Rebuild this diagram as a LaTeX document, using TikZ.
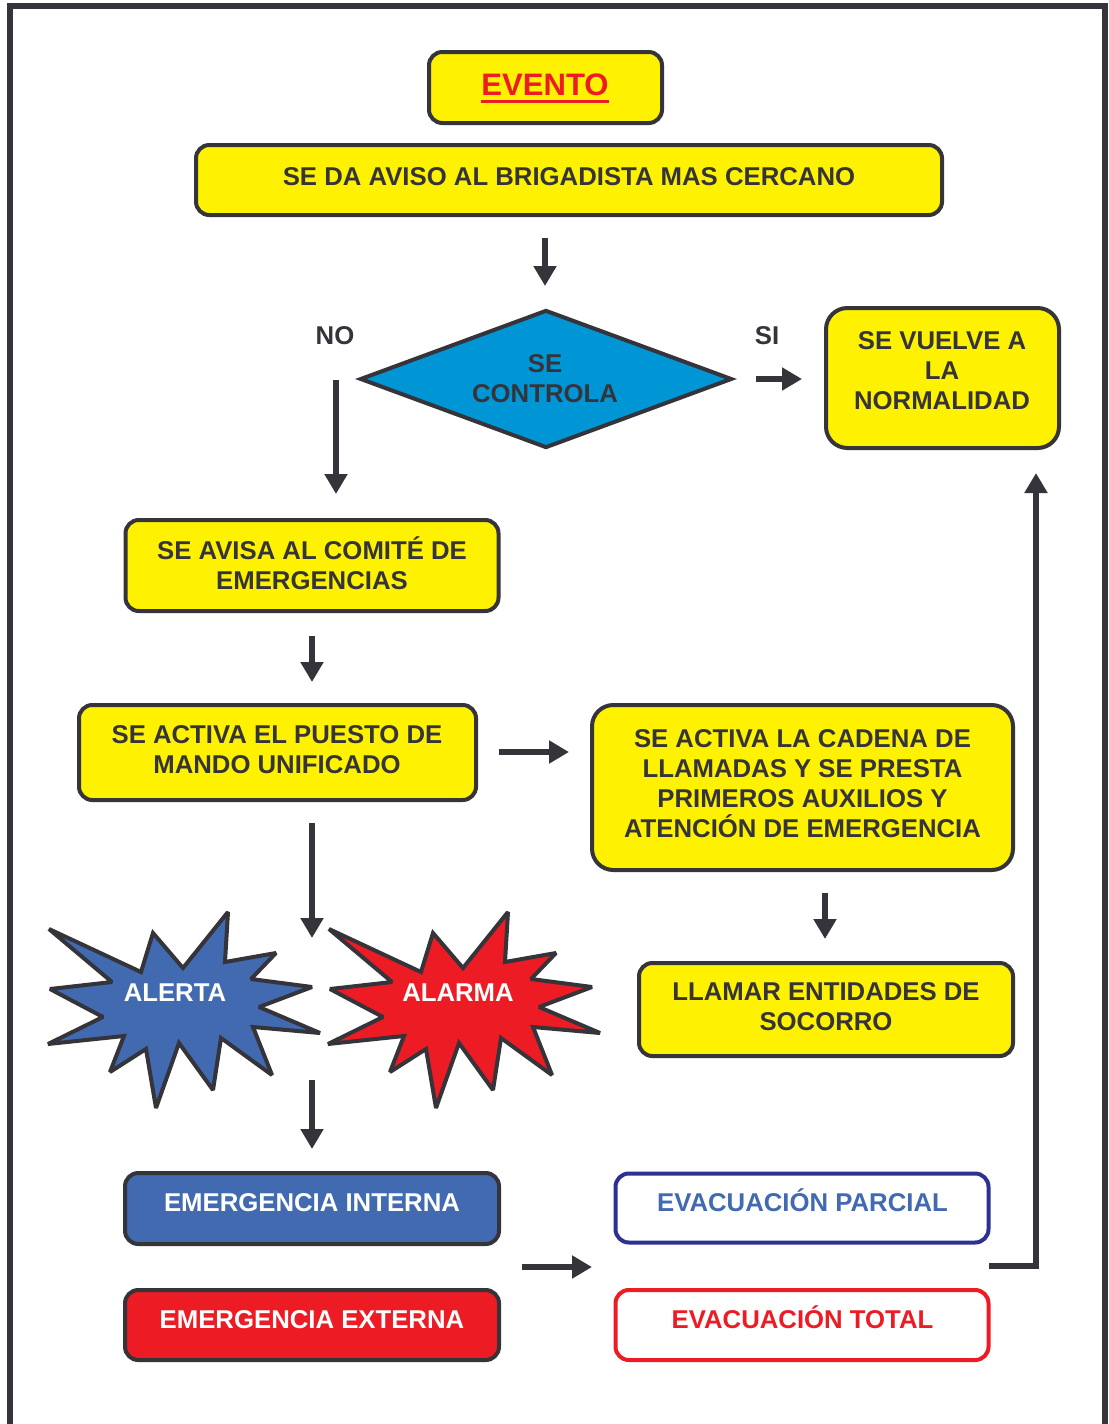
\documentclass[tikz,border=0pt]{standalone}
\usepackage{fontspec}
\setmainfont{Liberation Sans}
\usetikzlibrary{arrows.meta,shapes.geometric}
\definecolor{ink}{RGB}{53,52,58}
\definecolor{ylw}{RGB}{255,242,0}
\definecolor{dblue}{RGB}{0,150,214}
\definecolor{sblue}{RGB}{65,106,177}
\definecolor{sred}{RGB}{237,28,36}
\definecolor{navy}{RGB}{46,49,146}
\tikzset{
 ybox/.style={draw=ink, fill=ylw, line width=3pt, rounded corners=10pt, inner sep=0pt},
 bigbox/.style={ybox, rounded corners=16pt},
 txt/.style={font=\fontsize{19.3pt}{22.5pt}\selectfont\bfseries, text=ink, align=center, inner sep=0pt,
   execute at begin node=\strut, execute at end node=\strut},
 arr/.style={draw=ink, line width=4.5pt, -{Triangle[width=16.5pt,length=15pt]}},
 starshape/.style={draw=ink, line width=3pt, miter limit=2.2},
}
\begin{document}
\begin{tikzpicture}[x=0.75pt,y=-0.75pt]
\useasboundingbox (0,0) rectangle (1108,1424);
\fill[white] (0,0) rectangle (1108,1424);
% outer frame
\draw[ink, line width=4.5pt] (9.5,6) rectangle (1105,1440);

% top boxes
\node[ybox, minimum width=233*0.75pt, minimum height=71*0.75pt] (evento) at (545.5,87.5) {};
\node[font=\fontsize{23.3pt}{26pt}\selectfont\bfseries, text=sred, inner sep=0pt, anchor=base] (eventot) at (545,95) {EVENTO};
\draw[sred, line width=2.25pt] ([yshift=-4.5pt]eventot.base west) -- ([yshift=-4.5pt]eventot.base east);

\node[ybox, minimum width=746*0.75pt, minimum height=70*0.75pt] (aviso) at (569,180) {};
\node[txt] (avisot) at (569,179) {SE DA AVISO AL BRIGADISTA MAS CERCANO};

% decision
\node[diamond, draw=ink, fill=dblue, line width=3pt, inner sep=0pt,
      minimum width=372*0.75pt, minimum height=138*0.75pt] (ctrl) at (546,379) {};
\node[txt] (ctrlt) at (545,383) {SE\\CONTROLA};
\node[txt] (no) at (335,338) {NO};
\node[txt] (si) at (767,338) {SI};

\node[bigbox, minimum width=233*0.75pt, minimum height=140*0.75pt] (vuelve) at (942.5,378) {};
\node[txt] (vuelvet) at (942,375) {SE VUELVE A\\LA\\NORMALIDAD};

% left column
\node[ybox, minimum width=373*0.75pt, minimum height=91*0.75pt] (comite) at (312,565.5) {};
\node[txt] (comitet) at (312,568) {SE AVISA AL COMITÉ DE\\EMERGENCIAS};

\node[ybox, minimum width=397*0.75pt, minimum height=95*0.75pt] (puesto) at (277.5,752.5) {};
\node[txt] (puestot) at (277,754.5) {SE ACTIVA EL PUESTO DE\\MANDO UNIFICADO};

\node[bigbox, minimum width=421*0.75pt, minimum height=165*0.75pt] (cadena) at (802.5,787.5) {};
\node[txt] (cadenat) at (802.5,788) {SE ACTIVA LA CADENA DE\\LLAMADAS Y SE PRESTA\\PRIMEROS AUXILIOS Y\\ATENCIÓN DE EMERGENCIA};

\node[ybox, minimum width=374*0.75pt, minimum height=93*0.75pt] (llamar) at (826,1009.5) {};
\node[txt] (llamart) at (826,1011.5) {LLAMAR ENTIDADES DE\\SOCORRO};

% stars
\path[starshape, fill=sblue] (49,929) -- (141,972) -- (153,933) -- (183,968) -- (228,912) -- (225,962)
 -- (276,953) -- (251,979) -- (312,987) -- (259,1007) -- (320,1033) -- (253,1027) -- (272,1075)
 -- (221,1038) -- (213,1090) -- (179,1043) -- (156,1108) -- (146,1049) -- (110,1072) -- (124,1036)
 -- (48,1044) -- (103,1017) -- (50,989) -- (112,982) -- cycle;
\path[starshape, fill=sred, xshift=210pt] (49,929) -- (141,972) -- (153,933) -- (183,968) -- (228,912) -- (225,962)
 -- (276,953) -- (251,979) -- (312,987) -- (259,1007) -- (320,1033) -- (253,1027) -- (272,1075)
 -- (221,1038) -- (213,1090) -- (179,1043) -- (156,1108) -- (146,1049) -- (110,1072) -- (124,1036)
 -- (48,1044) -- (103,1017) -- (50,989) -- (112,982) -- cycle;
\node[txt, text=white] (alerta) at (175,995) {ALERTA};
\node[txt, text=white] (alarma) at (458,995) {ALARMA};

% emergencies
\node[ybox, fill=sblue, minimum width=374*0.75pt, minimum height=71*0.75pt] (interna) at (312,1208.5) {};
\node[txt, text=white] (internat) at (312,1205) {EMERGENCIA INTERNA};
\node[ybox, fill=sred, minimum width=374*0.75pt, minimum height=70*0.75pt] (externa) at (312,1325) {};
\node[txt, text=white] (externat) at (312,1322) {EMERGENCIA EXTERNA};

\node[ybox, draw=navy, fill=white, minimum width=373*0.75pt, minimum height=69*0.75pt] (parcial) at (802,1208) {};
\node[txt, text=sblue] (parcialt) at (802.5,1205) {EVACUACIÓN PARCIAL};
\node[ybox, draw=sred, fill=white, minimum width=373*0.75pt, minimum height=70*0.75pt] (total) at (802,1325) {};
\node[txt, text=sred] (totalt) at (802.5,1322) {EVACUACIÓN TOTAL};

% connectors
\coordinate (a1s) at (545,238); \coordinate (a1e) at (545,286);
\draw[arr] (a1s) -- (a1e);
\coordinate (a2s) at (336,380); \coordinate (a2e) at (336,494);
\draw[arr] (a2s) -- (a2e);
\coordinate (a3s) at (756,379); \coordinate (a3e) at (802,379);
\draw[arr] (a3s) -- (a3e);
\coordinate (a4s) at (312,636); \coordinate (a4e) at (312,682);
\draw[arr] (a4s) -- (a4e);
\coordinate (a5s) at (499,752); \coordinate (a5e) at (569,752);
\draw[arr] (a5s) -- (a5e);
\coordinate (a6s) at (312,823); \coordinate (a6e) at (312,938);
\draw[arr] (a6s) -- (a6e);
\coordinate (a7s) at (825,893); \coordinate (a7e) at (825,939);
\draw[arr] (a7s) -- (a7e);
\coordinate (a8s) at (312,1080); \coordinate (a8e) at (312,1149);
\draw[arr] (a8s) -- (a8e);
\coordinate (a9s) at (522,1267); \coordinate (a9e) at (592,1267);
\draw[arr] (a9s) -- (a9e);
\coordinate (a10s) at (989,1266); \coordinate (a10m) at (1036,1266); \coordinate (a10e) at (1036,473);
\draw[arr] (a10s) -- (a10m) -- (a10e);
\end{tikzpicture}
\end{document}
